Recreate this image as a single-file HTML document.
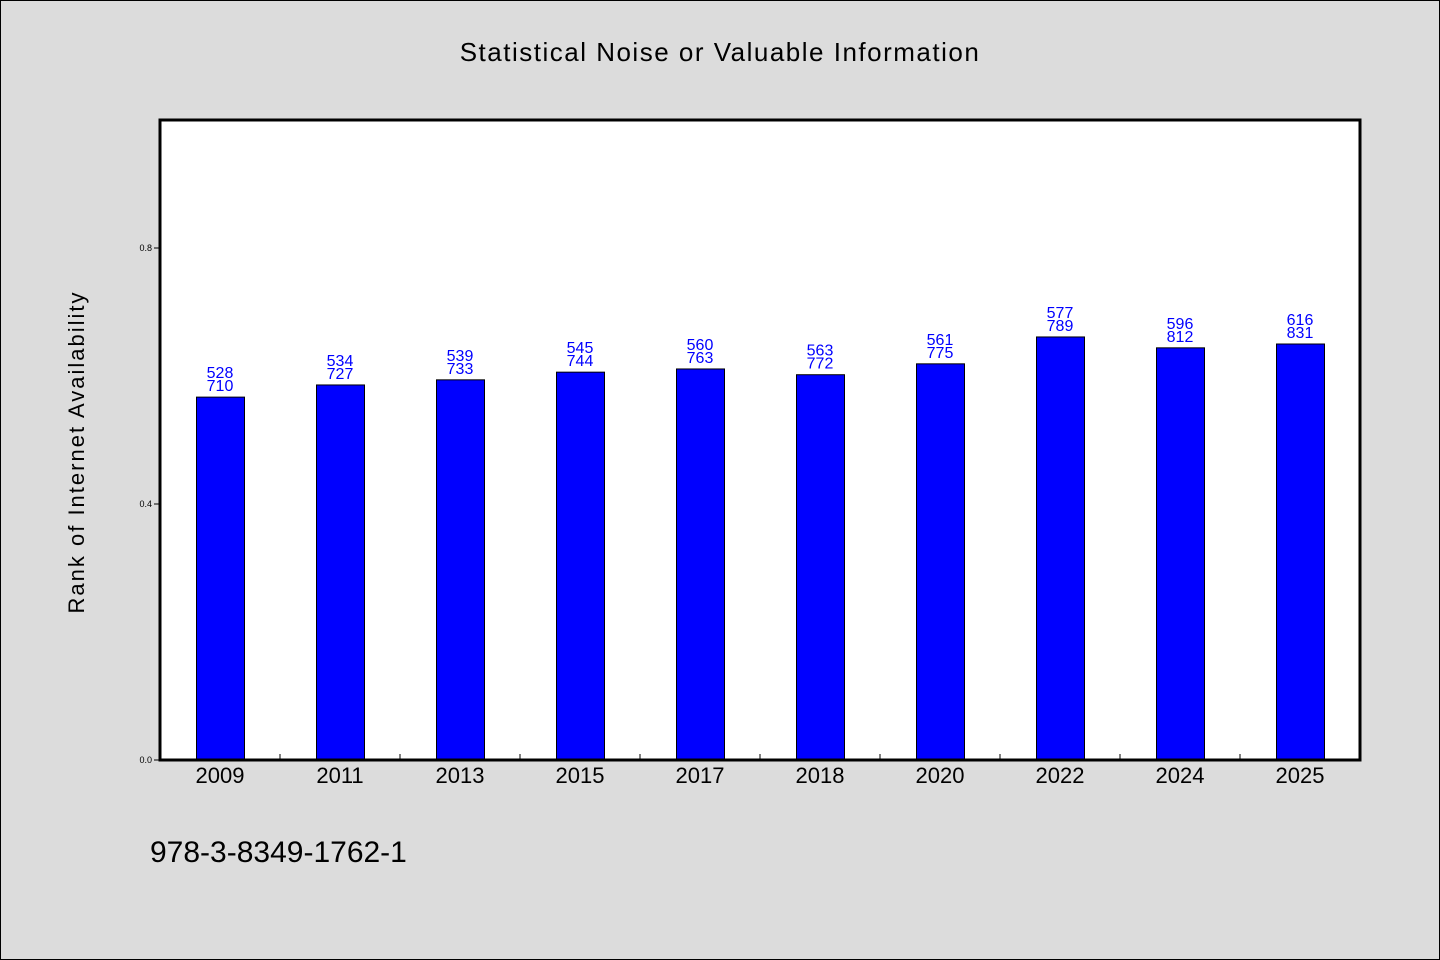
<!DOCTYPE html>
<html><head><meta charset="utf-8"><style>
body{margin:0;background:#dcdcdc}
svg{display:block;font-family:"WenQuanYi Zen Hei","Liberation Sans",sans-serif}
</style></head><body>
<svg id="c" width="1440" height="960">
<rect x="0.5" y="0.5" width="1439" height="959" fill="#dcdcdc" stroke="#000"/>
<text x="720" y="61" text-anchor="middle" font-size="26" letter-spacing="1.5">Statistical Noise or Valuable Information</text>
<rect x="160" y="120" width="1200" height="640" fill="#fff"/>
<g id="marks"></g>
<rect x="160" y="120" width="1200" height="640" fill="none" stroke="#000" stroke-width="3"/>
<text transform="translate(84,452) rotate(-90)" text-anchor="middle" font-size="22" letter-spacing="2">Rank of Internet Availability</text>
<text x="150" y="862" font-size="30">978-3-8349-1762-1</text>
</svg>
<script>
const categories=["2009","2011","2013","2015","2017","2018","2020","2022","2024","2025"];
const values=[0.567,0.586,0.594,0.606,0.611,0.602,0.619,0.661,0.644,0.650];
const labelsTop=["528","534","539","545","560","563","561","577","596","616"];
const labelsBottom=["710","727","733","744","763","772","775","789","812","831"];
const yTicks=[0.0,0.4,0.8];
const yTickLabels=["0.0","0.4","0.8"];
const NS="http://www.w3.org/2000/svg";
const g=document.getElementById('marks');
const L=160,T=120,W=1200,H=640;
const band=W/categories.length;
const x=i=>L+band*i+band/2;
const y=v=>T+H-v*H;
function mk(tag,attrs,txt){const e=document.createElementNS(NS,tag);for(const k in attrs)e.setAttribute(k,attrs[k]);if(txt!=null)e.textContent=txt;g.appendChild(e);return e;}
yTicks.forEach((t,i)=>{
  const l=mk('line',{x1:L-6,x2:L,y1:y(t),y2:y(t),stroke:'#000'});
  
  
  const tx=mk('text',{x:L-8,y:y(t)+3,'text-anchor':'end','font-size':9},yTickLabels[i]);
  
  
});
categories.forEach((c,i)=>{
  const bw=48;
  const r=mk('rect',{x:x(i)-bw/2+0.5,y:y(values[i]),width:bw,height:y(0)-y(values[i]),fill:'#0000ff',stroke:'#000','stroke-width':1});
  
  
  if(i>0){const tk=mk('line',{x1:L+band*i,x2:L+band*i,y1:y(0),y2:y(0)-6,stroke:'#000'});
    
    }
  const xl=mk('text',{x:x(i),y:783,'text-anchor':'middle','font-size':22},c);
  
  
  const t1=mk('text',{x:x(i),y:y(values[i])-19,'text-anchor':'middle','font-size':16,fill:'#0000ff'},labelsTop[i]);
  
  
  const t2=mk('text',{x:x(i),y:y(values[i])-6,'text-anchor':'middle','font-size':16,fill:'#0000ff'},labelsBottom[i]);
  
  
});
</script>
</body></html>
